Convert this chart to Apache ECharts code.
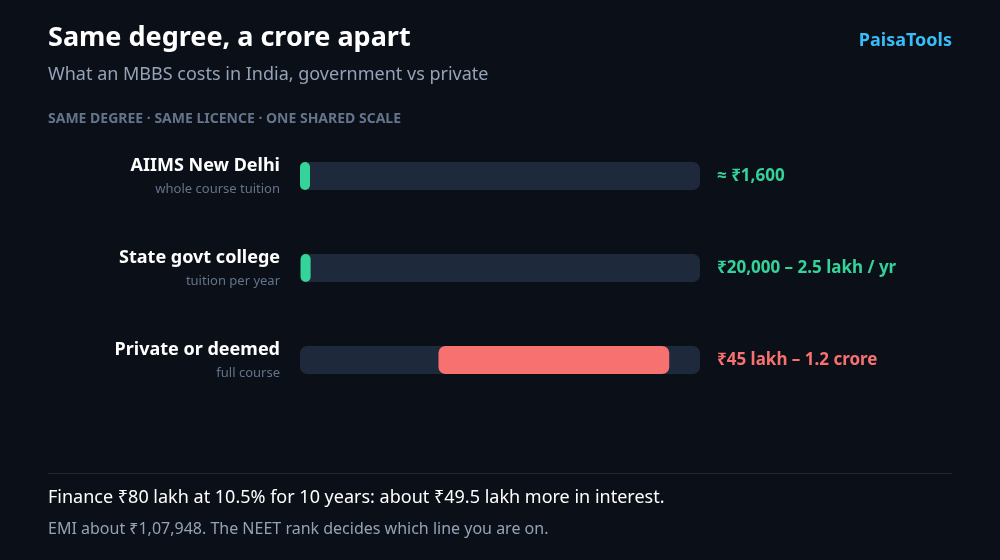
<!DOCTYPE html>
<html><head><meta charset="utf-8">
<script src="https://cdn.jsdelivr.net/npm/echarts@6/dist/echarts.min.js"></script>
<style>html,body{margin:0;background:#0b0f17}#c{width:1000px;height:560px}</style>
</head><body><div id="c"></div>
<script>
const categories = ['AIIMS New Delhi', 'State govt college', 'Private or deemed'];
const subLabels = ['whole course tuition', 'tuition per year', 'full course'];
const lowLakh = [0, 0.2, 45];
const highLakh = [0.016, 2.5, 120];
const valueLabels = ['≈ ₹1,600', '₹20,000 – 2.5 lakh / yr', '₹45 lakh – 1.2 crore'];
const barColors = ['#34d399', '#34d399', '#f87171'];
const scaleMax = 130;

const chart = echarts.init(document.getElementById('c'));
const F = '"Noto Sans", "Open Sans", sans-serif';
chart.setOption({
  backgroundColor: '#0b0f17',
  textStyle: { fontFamily: F },
  grid: { left: 300, right: 300, top: 130, height: 276 },
  xAxis: { type: 'value', min: 0, max: scaleMax, show: false },
  yAxis: {
    type: 'category', data: categories, inverse: true,
    axisLine: { show: false }, axisTick: { show: false },
    axisLabel: {
      margin: 20, align: 'right',
      formatter: (v, i) => '{a|' + v + '}\n{b|' + subLabels[i] + '}',
      rich: {
        a: { color: '#ffffff', fontSize: 18, fontWeight: 'bold', fontFamily: F, lineHeight: 26 },
        b: { color: '#64748b', fontSize: 13, fontFamily: F, lineHeight: 20 }
      }
    }
  },
  series: [
    { type: 'bar', barWidth: 28, barGap: '-100%', z: 1, silent: true,
      data: categories.map((c, i) => ({ value: scaleMax,
        label: { show: true, position: 'right', distance: 17, fontFamily: F,
          formatter: valueLabels[i], fontSize: 17, fontWeight: 'bold', color: barColors[i] } })),
      itemStyle: { color: '#1e293b', borderRadius: 7 } },
    { type: 'bar', stack: 'r', data: lowLakh, barWidth: 28, z: 2, itemStyle: { color: 'transparent' } },
    { type: 'bar', stack: 'r', barWidth: 28, z: 2, barMinHeight: 10,
      data: highLakh.map((h, i) => ({ value: h - lowLakh[i], itemStyle: { color: barColors[i] } })),
      itemStyle: { borderRadius: 7 } }
  ],
  graphic: [
    { type: 'text', left: 48, top: 25, style: { text: 'Same degree, a crore apart', fill: '#fff', font: 'bold 27px ' + F } },
    { type: 'text', left: 48, top: 66, style: { text: 'What an MBBS costs in India, government vs private', fill: '#94a3b8', font: '18px ' + F } },
    { type: 'text', left: 48, top: 112, style: { text: 'SAME DEGREE · SAME LICENCE · ONE SHARED SCALE', fill: '#64748b', font: 'bold 14px ' + F } },
    { type: 'text', right: 48, top: 32, style: { text: 'PaisaTools', fill: '#38bdf8', font: 'bold 18px ' + F } },
    { type: 'rect', shape: { x: 48, y: 473, width: 904, height: 1 }, style: { fill: '#1e293b' } },
    { type: 'text', left: 48, top: 489, style: { text: 'Finance ₹80 lakh at 10.5% for 10 years: about ₹49.5 lakh more in interest.', fill: '#fff', font: '18px ' + F } },
    { type: 'text', left: 48, top: 521, style: { text: 'EMI about ₹1,07,948. The NEET rank decides which line you are on.', fill: '#94a3b8', font: '16px ' + F } }
  ]
});
</script></body></html>
